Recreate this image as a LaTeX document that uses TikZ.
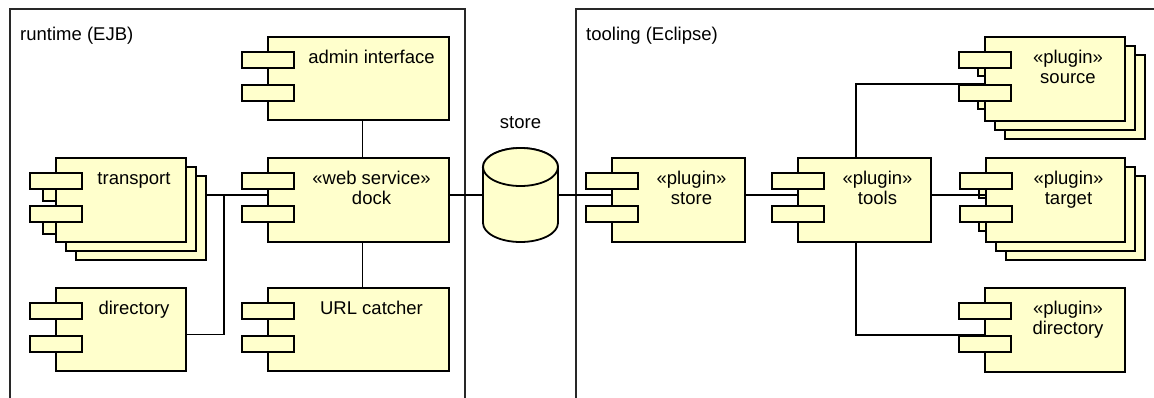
\documentclass[tikz,border=0pt]{standalone}
\usepackage{fontspec}
\setmainfont{Liberation Sans}
\usetikzlibrary{calc}
\definecolor{compfill}{RGB}{255,255,204}
\definecolor{framecol}{RGB}{40,40,40}
\tikzset{
  body/.style={draw=black, line width=1.8bp, fill=compfill, inner sep=0pt, outer sep=0pt},
  port/.style={draw=black, line width=1.8bp, fill=compfill},
  stub/.style={draw=black, line width=1.8bp, fill=compfill},
  ctext/.style={font=\fontsize{18.5bp}{20bp}\selectfont, align=center, inner sep=0pt, anchor=north},
  plain/.style={font=\fontsize{18.5bp}{20bp}\selectfont, inner sep=0pt},
  conn/.style={draw=black, line width=1.5bp},
  frame/.style={draw=framecol, line width=1.4bp},
  cyl/.style={draw=black, line width=1.8bp, fill=compfill}
}
% name, x1, y1, x2, y2, text
\newcommand\mycomp[6]{%
  \node[body, anchor=north west, minimum width={(#4-#2)*1bp}, minimum height={(#5-#3)*1bp}] (#1) at (#2,#3) {};
  \draw[port] (#2-26,#3+15) rectangle (#2+26,#3+31);
  \draw[port] (#2-26,#3+48) rectangle (#2+26,#3+64);
  \node[ctext] (#1-t) at ({(#2+26+#4)/2},{#3+13}) {\rule{0pt}{13bp}#6};
}
% name, x1, y1, x2, y2, text, stub dx, stub dy
\newcommand\mystack[8]{%
  \node[body, anchor=north west, minimum width={(#4-#2)*1bp}, minimum height={(#5-#3)*1bp}] (#1-b3) at (#2+20,#3+18) {};
  \node[body, anchor=north west, minimum width={(#4-#2)*1bp}, minimum height={(#5-#3)*1bp}] (#1-b2) at (#2+10,#3+9) {};
  \draw[stub] (#2-26+#7,#3+20) rectangle (#2+3,#3+31+#8);
  \draw[stub] (#2-26+#7,#3+53) rectangle (#2+3,#3+64+#8);
  \mycomp{#1}{#2}{#3}{#4}{#5}{#6}
}
\begin{document}
\begin{tikzpicture}[x=1bp,y=-1bp]
\useasboundingbox (0,0) rectangle (1154,397);
\clip (0,0) rectangle (1154,397);
% frames
\draw[frame] (10,9) rectangle (465,420);
\draw[frame] (576,9) rectangle (1180,420);
\node[plain, anchor=base west] (rtl) at (20,40) {runtime (EJB)};
\node[plain, anchor=base west] (tll) at (586,40) {tooling (Eclipse)};

% runtime components
\mycomp{admin}{268}{37}{449}{120}{admin interface}
\mycomp{dock}{268}{158}{449}{242}{«web service»\\dock}
\mycomp{url}{268}{288}{449}{371}{URL catcher}
\mystack{trans}{56}{158}{186}{242}{transport}{13}{12}
\mycomp{dir}{56}{288}{186}{371}{directory}

% store cylinder
\node[minimum width=75bp, minimum height=94bp, inner sep=0pt] (store) at (520.5,195) {};
\draw[cyl] (483,167) -- (483,223) arc[start angle=180, end angle=360, x radius=37.5bp, y radius=19bp]
  -- (558,167) arc[start angle=0, end angle=180, x radius=37.5bp, y radius=19bp] -- cycle;
\draw[cyl] (520.5,167) ellipse [x radius=37.5bp, y radius=19bp];
\node[plain, anchor=base] (storel) at (520.5,128) {store};

% tooling components
\mycomp{pstore}{612}{158}{745}{242}{«plugin»\\store}
\mycomp{tools}{798}{158}{931}{242}{«plugin»\\tools}
\mystack{source}{985}{37}{1125}{121}{«plugin»\\source}{19}{8}
\mystack{target}{986}{158}{1125}{242}{«plugin»\\target}{19}{9}
\mycomp{pdir}{985}{288}{1125}{372}{«plugin»\\directory}

% connectors
\coordinate (j) at (224,195);
\draw[conn] ([xshift=4bp]admin.south) -- ([xshift=4bp]dock.north);
\draw[conn] ([xshift=4bp]dock.south) -- ([xshift=4bp]url.north);
\draw[conn] (trans-b3.east |- j) -- (dock.west |- j);
\draw[conn] ([yshift=-5bp]dir.east) -| (j);
\draw[conn] (dock.east |- store.west) -- (store.west);
\draw[conn] (store.east) -- (pstore.west |- store.east);
\draw[conn] (pstore.east |- store.east) -- (tools.west |- store.east);
\draw[conn] (tools.east |- store.east) -- (target.west |- store.east);
\draw[conn] ([xshift=-8.5bp]tools.north) |- ([yshift=-5bp]source.west);
\draw[conn] ([xshift=-8.5bp]tools.south) |- ([yshift=-5bp]pdir.west);
\end{tikzpicture}
\end{document}
